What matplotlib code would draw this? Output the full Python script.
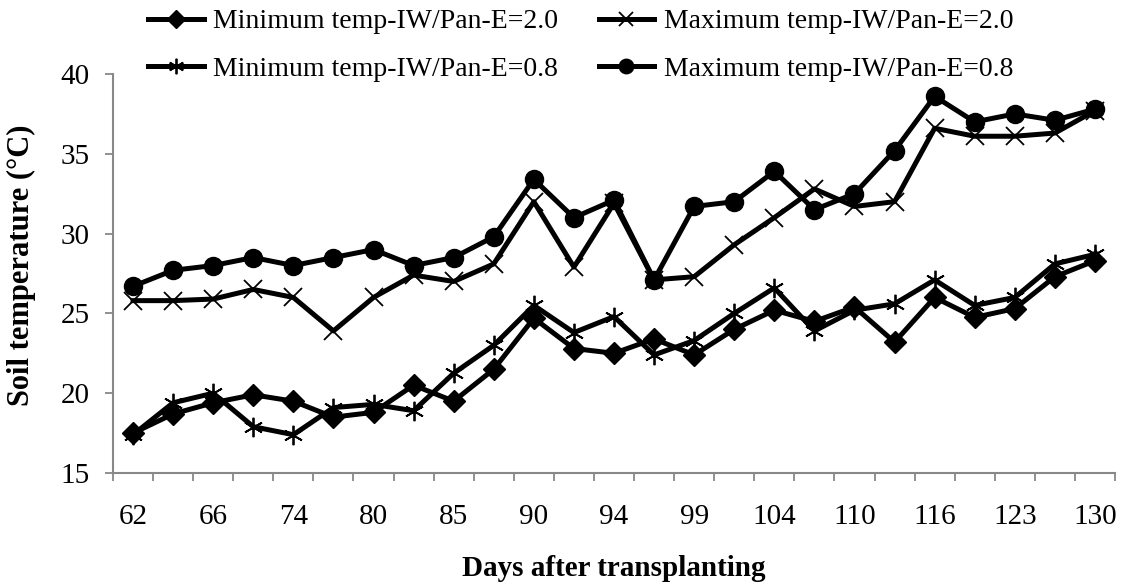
import numpy as np
import matplotlib
matplotlib.use("Agg")
import matplotlib.pyplot as plt

plt.rcParams['font.family'] = ['Liberation Serif', 'DejaVu Serif']

# days after transplanting (only every other category is labelled)
day_labels = ['62', '66', '74', '80', '85', '90', '94', '99', '104', '110', '116', '123', '130']
n_points = 25

min_20 = [17.5, 18.7, 19.4, 19.9, 19.5, 18.5, 18.8, 20.5, 19.5, 21.5, 24.7, 22.8, 22.5,
          23.4, 22.4, 24.0, 25.2, 24.5, 25.4, 23.2, 26.0, 24.75, 25.3, 27.3, 28.3]
max_20 = [25.8, 25.8, 25.9, 26.5, 26.0, 23.9, 26.0, 27.4, 27.0, 28.1, 32.0, 27.9, 31.9,
          27.1, 27.3, 29.3, 31.0, 32.8, 31.7, 32.0, 36.6, 36.1, 36.1, 36.3, 37.7]
min_08 = [17.4, 19.4, 20.0, 17.9, 17.4, 19.1, 19.3, 18.9, 21.25, 23.0, 25.5, 23.8, 24.8,
          22.4, 23.3, 25.0, 26.6, 23.9, 25.2, 25.6, 27.1, 25.5, 26.0, 28.1, 28.7]
max_08 = [26.7, 27.7, 28.0, 28.5, 28.0, 28.5, 29.0, 28.0, 28.5, 29.8, 33.4, 31.0, 32.1,
          27.1, 31.7, 32.0, 33.9, 31.5, 32.5, 35.2, 38.6, 37.0, 37.5, 37.1, 37.8]

x = np.arange(n_points)

fig = plt.figure(figsize=(11.22, 5.88), dpi=100)
ax = fig.add_axes([113/1122, 1 - 473/588, 1002/1122, 399/588])

lw = 3.6
l1, = ax.plot(x, min_20, color='black', lw=lw, marker='D', ms=11,
              label='Minimum temp-IW/Pan-E=2.0')
l2, = ax.plot(x, max_20, color='black', lw=lw, marker='x', ms=13, mew=1.3,
              label='Maximum temp-IW/Pan-E=2.0')
l3, = ax.plot(x, min_08, color='black', lw=lw, marker=(6, 2, 0), ms=14, mew=1.3,
              label='Minimum temp-IW/Pan-E=0.8')
l4, = ax.plot(x, max_08, color='black', lw=lw, marker='o', ms=13,
              label='Maximum temp-IW/Pan-E=0.8')

ax.set_xlim(-0.5, n_points - 0.5)
ax.set_ylim(15, 40)
ax.set_yticks(np.arange(15, 41, 5))

# tick marks at category boundaries, labels at every other category centre
ax.set_xticks(np.arange(-0.5, n_points, 1))
ax.set_xticklabels([])
ax.set_xticks(x[::2], day_labels, minor=True)
ax.tick_params(axis='x', which='minor', length=0, pad=22, labelsize=21)
ax.tick_params(axis='x', which='major', length=6, width=1.3, color='#888888', direction='out')
ax.tick_params(axis='y', length=6, width=1.3, color='#888888', labelsize=21, pad=11)

for s in ['top', 'right']:
    ax.spines[s].set_visible(False)
for s in ['left', 'bottom']:
    ax.spines[s].set_color('#888888')
    ax.spines[s].set_linewidth(1.5)

ax.set_ylabel('Soil temperature (°C)', fontsize=22, fontweight='bold')
ax.yaxis.set_label_coords(-0.077, 0.52)
ax.set_xlabel('Days after transplanting', fontsize=21, fontweight='bold')
ax.xaxis.set_label_coords(0.5, -0.205)

fig.legend(handles=[l1, l3, l2, l4], ncol=2, frameon=False, loc='upper left',
           bbox_to_anchor=(148/1122, 0.985), borderpad=0, borderaxespad=0,
           handlelength=2.0, handletextpad=0.35, columnspacing=1.45,
           labelspacing=0.8, fontsize=20, markerscale=0.8)

fig.savefig('out.png', dpi=100)
